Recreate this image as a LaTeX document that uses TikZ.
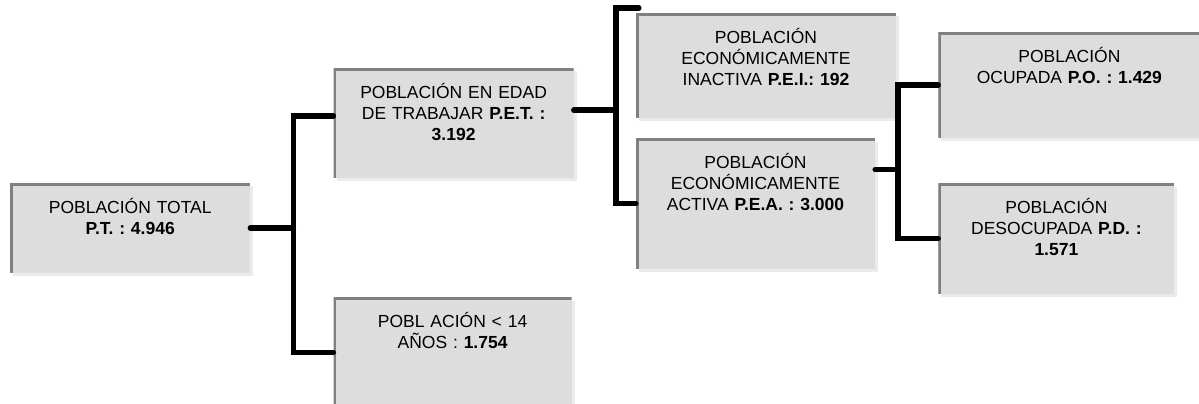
\documentclass[tikz,border=0pt]{standalone}
\usepackage{fontspec}
\setmainfont{Liberation Sans}
\usepackage{tikz}
\usetikzlibrary{positioning,shadows}
\definecolor{boxfill}{HTML}{DDDDDD}
\definecolor{boxedge}{HTML}{808080}
\definecolor{boxshade}{HTML}{EBEBEB}
\frenchspacing

\begin{document}
\begin{tikzpicture}[x=1pt, y=-1pt, node distance=1cm,
box/.style={fill=boxfill, text centered, text width=240pt, inner sep=0pt,
  text height=30pt, text depth=80pt, font=\fontsize{17.5}{21}\selectfont,
  drop shadow={shadow xshift=3pt, shadow yshift=-3pt, fill=boxshade, opacity=1},
  path picture={\draw[boxedge, line width=5pt] (path picture bounding box.south west)
    -- (path picture bounding box.north west) -- (path picture bounding box.north east);}},
link/.style={line width=5.5pt, line cap=round}
]
\useasboundingbox (0,0) rectangle (1199,404);

\node (pt) [box, anchor=north west, text depth=60pt] at (10,183) {POBLACIÓN TOTAL\\ \textbf{P.T. : 4.946}};
\node (pet) [box, above right=115pt and 83pt of pt.north east, anchor=north west] {POBLACIÓN EN EDAD\\ DE TRABAJAR \textbf{P.E.T. :}\\ \textbf{3.192}};
\node (p14) [box, below=119pt of pet.south west, anchor=north west, text width=238pt] {POBL ACIÓN < 14\\ AÑOS : \textbf{1.754}};

\node (pei) [box, above right=55pt and 62pt of pet.north east, anchor=north west, text width=260pt, text depth=75pt] {POBLACIÓN\\ ECONÓMICAMENTE\\ INACTIVA \textbf{P.E.I.: 192}};
\node (pea) [box, below=20pt of pei.south west, anchor=north west, text width=239pt, text depth=100pt] {POBLACIÓN\\ ECONÓMICAMENTE\\ ACTIVA \textbf{P.E.A. : 3.000}};

\node (po) [box, below right=19pt and 42pt of pei.north east, anchor=north west, text width=262pt, text depth=76pt] {POBLACIÓN\\ OCUPADA \textbf{P.O. : 1.429}};
\node (pd) [box, below=45pt of po.south west, anchor=north west, text width=236pt] {POBLACIÓN\\ DESOCUPADA \textbf{P.D. :}\\ \textbf{1.571}};

% brackets
\draw[link] (pt.east) -- ++(43,0) coordinate (fork1);
\draw[link] (pet.west) ++(0,-7) -| (fork1) |- (p14.west);

\draw[link] (pet.east) ++(0,-13) -- ++(42,0) coordinate (fork2);
\draw[link] (pei.north west) ++(3,-5) -| (fork2) |- (pea.west);

\draw[link] (pea.east) ++(0,-34) -- ++(23,0) coordinate (fork3);
\draw[link] (po.west) -| (fork3) |- (pd.west);

\end{tikzpicture}
\end{document}
